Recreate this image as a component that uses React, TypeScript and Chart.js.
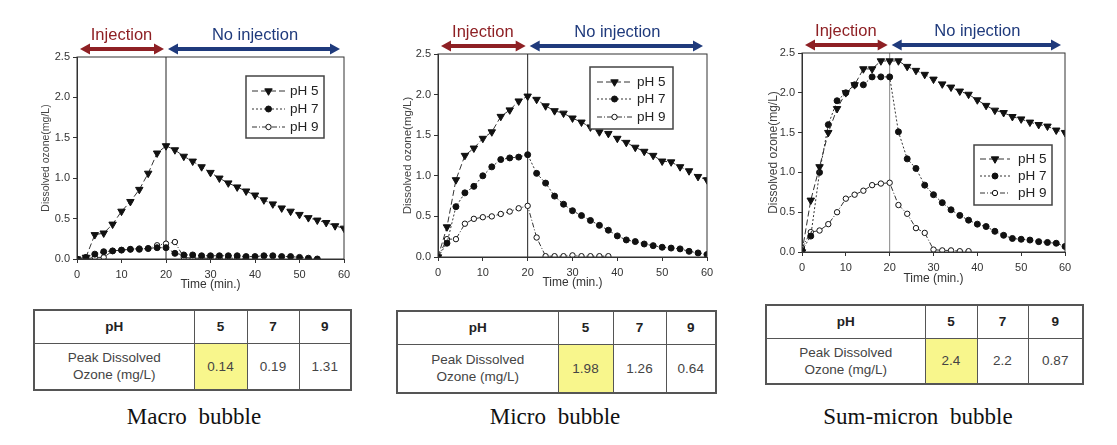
import React, { useEffect, useRef } from "react";
import { Chart, registerables } from "chart.js";
Chart.register(...registerables);

// ---------- data ----------
const TIME = [0, 2, 4, 6, 8, 10, 12, 14, 16, 18, 20, 22, 24, 26, 28, 30, 32, 34, 36, 38, 40, 42, 44, 46, 48, 50, 52, 54, 56, 58, 60];
const SERIES_LABELS = ["pH 5", "pH 7", "pH 9"];
const PHASE_LABELS = ["Injection", "No injection"];
const X_TITLE = "Time (min.)";
const Y_TITLE = "Dissolved ozone(mg/L)";

const MACRO_PH5 = [0, 0.02, 0.30, 0.32, 0.43, 0.59, 0.71, 0.86, 1.06, 1.31, 1.40, 1.35, 1.27, 1.21, 1.14, 1.07, 1.00, 0.94, 0.89, 0.84, 0.79, 0.73, 0.68, 0.63, 0.59, 0.55, 0.51, 0.48, 0.45, 0.41, 0.38];
const MACRO_PH7 = [0, 0.02, 0.06, 0.09, 0.10, 0.11, 0.12, 0.12, 0.13, 0.14, 0.14, 0.07, 0.05, 0.05, 0.04, 0.04, 0.04, 0.04, 0.04, 0.03, 0.03, 0.04, 0.04, 0.03, 0.03, 0.02, 0.01, 0.0];
const MACRO_PH9 = [0, 0.0, 0.02, 0.02, 0.10, 0.11, 0.12, 0.13, 0.13, 0.17, 0.19, 0.21, 0.02, 0.01, 0.01, 0.01, 0.01, 0.01, 0.01, 0.01];

const MICRO_PH5 = [0, 0.37, 0.95, 1.25, 1.34, 1.46, 1.54, 1.73, 1.81, 1.92, 1.98, 1.94, 1.86, 1.80, 1.77, 1.71, 1.66, 1.60, 1.54, 1.52, 1.46, 1.41, 1.35, 1.30, 1.25, 1.18, 1.17, 1.11, 1.06, 0.99, 0.95];
const MICRO_PH7 = [0, 0.17, 0.62, 0.79, 0.87, 1.00, 1.11, 1.20, 1.22, 1.23, 1.26, 1.03, 0.91, 0.75, 0.65, 0.57, 0.51, 0.45, 0.39, 0.33, 0.26, 0.21, 0.19, 0.16, 0.14, 0.12, 0.11, 0.10, 0.07, 0.05, 0.03];
const MICRO_PH9 = [0, 0.22, 0.22, 0.41, 0.47, 0.49, 0.50, 0.53, 0.56, 0.60, 0.63, 0.24, 0.01, 0.01, 0.01, 0.02, 0.01, 0.01, 0.01, 0.01];

const SUB_PH5 = [0, 0.65, 1.07, 1.50, 1.80, 2.00, 2.10, 2.30, 2.30, 2.40, 2.40, 2.40, 2.33, 2.28, 2.23, 2.17, 2.11, 2.07, 2.02, 1.98, 1.91, 1.84, 1.78, 1.75, 1.70, 1.67, 1.63, 1.60, 1.58, 1.53, 1.50];
const SUB_PH7 = [0.02, 0.20, 1.00, 1.60, 1.90, 2.00, 2.10, 2.10, 2.20, 2.20, 2.20, 1.51, 1.17, 1.05, 0.84, 0.72, 0.62, 0.53, 0.46, 0.40, 0.35, 0.32, 0.26, 0.21, 0.17, 0.16, 0.15, 0.13, 0.12, 0.11, 0.07];
const SUB_PH9 = [0.05, 0.25, 0.27, 0.35, 0.50, 0.67, 0.72, 0.77, 0.84, 0.86, 0.87, 0.59, 0.48, 0.30, 0.24, 0.03, 0.02, 0.02, 0.01, 0.01];

const TABLE_HEAD = ["pH", "5", "7", "9"];
const TABLE_ROW_LABEL = ["Peak Dissolved", "Ozone (mg/L)"];
const MACRO_PEAK = ["0.14", "0.19", "1.31"];
const MICRO_PEAK = ["1.98", "1.26", "0.64"];
const SUB_PEAK = ["2.4", "2.2", "0.87"];
const CAPTIONS = ["Macro bubble", "Micro bubble", "Sum-micron bubble"];

// ---------- styles ----------
const SANS = "'Liberation Sans', Arial, sans-serif";
const RED = "#8e2024";
const BLUE = "#1f3a7c";
const LINE = "#333";

const SERIES_STYLE = [
  { pointStyle: "triangle", rotation: 180, radius: 4.3, fill: "#111", dash: [6, 3] },
  { pointStyle: "circle", rotation: 0, radius: 3, fill: "#111", dash: [2, 2] },
  { pointStyle: "circle", rotation: 0, radius: 2.7, fill: "#fff", dash: [5, 2, 1, 2] },
];

type Cfg = {
  left: number; width: number; height: number;
  area: { left: number; right: number; top: number; bottom: number };
  yTitleLeft: number; yTitleSize: number;
  legend: { x: number; y: number; w: number; h: number; rows: number[]; l0: number; l1: number; tx: number };
  vline: string;
  series: number[][];
};

function drawArrow(ctx: CanvasRenderingContext2D, x1: number, x2: number, y: number, color: string) {
  const hl = 10, hh = 5.5;
  ctx.save();
  ctx.strokeStyle = color;
  ctx.fillStyle = color;
  ctx.lineWidth = 4;
  ctx.beginPath();
  ctx.moveTo(x1 + hl - 1, y);
  ctx.lineTo(x2 - hl + 1, y);
  ctx.stroke();
  ctx.beginPath();
  ctx.moveTo(x1, y); ctx.lineTo(x1 + hl, y - hh); ctx.lineTo(x1 + hl, y + hh); ctx.closePath(); ctx.fill();
  ctx.beginPath();
  ctx.moveTo(x2, y); ctx.lineTo(x2 - hl, y - hh); ctx.lineTo(x2 - hl, y + hh); ctx.closePath(); ctx.fill();
  ctx.restore();
}

function drawMarker(ctx: CanvasRenderingContext2D, st: any, x: number, y: number) {
  ctx.beginPath();
  if (st.pointStyle === "triangle") {
    const r = st.radius;
    ctx.moveTo(x, y + r);
    ctx.lineTo(x - r * 0.866, y - r * 0.5);
    ctx.lineTo(x + r * 0.866, y - r * 0.5);
    ctx.closePath();
  } else {
    ctx.arc(x, y, st.radius, 0, Math.PI * 2);
  }
  ctx.fill();
  ctx.stroke();
}

const overlay = {
  id: "overlay",
  beforeDatasetsDraw(chart: any, _a: any, opts: any) {
    const { ctx, chartArea } = chart;
    const xs = chart.scales.x;
    const x20 = xs.getPixelForValue(20);
    ctx.save();
    ctx.strokeStyle = opts.vline;
    ctx.lineWidth = 1;
    ctx.beginPath();
    ctx.moveTo(x20, chartArea.top);
    ctx.lineTo(x20, chartArea.bottom);
    ctx.stroke();
    ctx.restore();
  },
  afterDraw(chart: any, _a: any, opts: any) {
    const { ctx, chartArea } = chart;
    const xs = chart.scales.x;
    const x0 = xs.getPixelForValue(0), x20 = xs.getPixelForValue(20), x60 = xs.getPixelForValue(60);
    // frame
    ctx.save();
    ctx.strokeStyle = LINE;
    ctx.lineWidth = 1;
    ctx.strokeRect(chartArea.left, chartArea.top, chartArea.right - chartArea.left, chartArea.bottom - chartArea.top);
    ctx.restore();
    // arrows
    const ay = chartArea.top - 8;
    drawArrow(ctx, x0 + 3, x20 - 2, ay, RED);
    drawArrow(ctx, x20 + 2, x60 - 4, ay, BLUE);
    ctx.save();
    ctx.font = `16.5px ${SANS}`;
    ctx.textAlign = "center";
    ctx.textBaseline = "middle";
    ctx.fillStyle = RED;
    ctx.fillText(PHASE_LABELS[0], (x0 + x20) / 2, chartArea.top - 22);
    ctx.fillStyle = BLUE;
    ctx.fillText(PHASE_LABELS[1], (x20 + x60) / 2, chartArea.top - 22);
    ctx.restore();
    // legend
    const lg = opts.legend;
    ctx.save();
    ctx.fillStyle = "#fff";
    ctx.fillRect(lg.x, lg.y, lg.w, lg.h);
    ctx.strokeStyle = "#444";
    ctx.lineWidth = 1.5;
    ctx.strokeRect(lg.x, lg.y, lg.w, lg.h);
    chart.data.datasets.forEach((ds: any, i: number) => {
      const y = lg.rows[i];
      ctx.save();
      ctx.strokeStyle = LINE;
      ctx.lineWidth = 1;
      ctx.setLineDash(ds.borderDash);
      ctx.beginPath();
      ctx.moveTo(lg.l0, y);
      ctx.lineTo(lg.l1, y);
      ctx.stroke();
      ctx.restore();
      const st = SERIES_STYLE[i];
      ctx.save();
      ctx.fillStyle = st.fill;
      ctx.strokeStyle = "#111";
      ctx.lineWidth = 1;
      drawMarker(ctx, st, (lg.l0 + lg.l1) / 2, y);
      ctx.restore();
      ctx.fillStyle = "#222";
      ctx.font = `13.5px ${SANS}`;
      ctx.textBaseline = "middle";
      ctx.fillText(ds.label, lg.tx, y);
    });
    ctx.restore();
  },
};

function LineChart({ cfg }: { cfg: Cfg }) {
  const ref = useRef<HTMLCanvasElement>(null);
  useEffect(() => {
    if (!ref.current) return;
    const chart = new Chart(ref.current, {
      type: "line",
      data: {
        datasets: cfg.series.map((vals, i) => ({
          label: SERIES_LABELS[i],
          data: vals.map((v, k) => ({ x: TIME[k], y: v })),
          borderColor: LINE,
          borderWidth: 1,
          borderDash: SERIES_STYLE[i].dash,
          pointStyle: SERIES_STYLE[i].pointStyle as any,
          rotation: SERIES_STYLE[i].rotation,
          pointRadius: SERIES_STYLE[i].radius,
          pointBackgroundColor: SERIES_STYLE[i].fill,
          pointBorderColor: "#111",
          pointBorderWidth: 1,
          tension: 0,
          fill: false,
        })),
      },
      options: {
        animation: false,
        responsive: false,
        events: [],
        layout: {
          padding: {
            left: cfg.yTitleLeft,
            top: cfg.area.top,
            right: cfg.width - cfg.area.right,
            bottom: 0,
          },
        },
        plugins: {
          legend: { display: false },
          tooltip: { enabled: false },
          overlay: { legend: cfg.legend, vline: cfg.vline },
        } as any,
        scales: {
          x: {
            type: "linear",
            min: 0,
            max: 60,
            ticks: { stepSize: 10, color: "#333", font: { family: SANS, size: 11 }, padding: 5, maxRotation: 0 },
            grid: { drawOnChartArea: false, drawTicks: true, tickLength: 4, color: LINE },
            border: { display: true, color: LINE, width: 1 },
            title: { display: true, text: X_TITLE, color: "#333", font: { family: SANS, size: 12 }, padding: 0 },
            afterFit: (s: any) => { s.height = cfg.height - cfg.area.bottom; },
          },
          y: {
            min: 0,
            max: 2.5,
            ticks: { stepSize: 0.5, color: "#333", font: { family: SANS, size: 11 }, padding: 3, callback: (v: any) => Number(v).toFixed(1) },
            grid: { drawOnChartArea: false, drawTicks: true, tickLength: 4, color: LINE },
            border: { display: true, color: LINE, width: 1 },
            title: { display: true, text: Y_TITLE, color: "#444", font: { family: SANS, size: cfg.yTitleSize }, padding: 0 },
            afterFit: (s: any) => { s.width = cfg.area.left - cfg.yTitleLeft; },
          },
        },
      } as any,
      plugins: [overlay as any],
    });
    return () => chart.destroy();
  }, [cfg]);
  return (
    <canvas
      ref={ref}
      width={cfg.width}
      height={cfg.height}
      style={{ position: "absolute", left: cfg.left, top: 0, width: cfg.width, height: cfg.height }}
    />
  );
}

const CHARTS: Cfg[] = [
  {
    left: 0, width: 370, height: 292,
    area: { left: 77, right: 344, top: 57, bottom: 259 },
    yTitleLeft: 40, yTitleSize: 10.5,
    legend: { x: 246, y: 76, w: 78, h: 62, rows: [91, 109, 127], l0: 252, l1: 285, tx: 290 },
    vline: "#222",
    series: [MACRO_PH5, MACRO_PH7, MACRO_PH9],
  },
  {
    left: 370, width: 370, height: 290,
    area: { left: 68, right: 337, top: 54, bottom: 257 },
    yTitleLeft: 31, yTitleSize: 11.5,
    legend: { x: 220, y: 67, w: 83, h: 62, rows: [82, 99, 117], l0: 227, l1: 262, tx: 267 },
    vline: "#222",
    series: [MICRO_PH5, MICRO_PH7, MICRO_PH9],
  },
  {
    left: 740, width: 377, height: 286,
    area: { left: 62, right: 325, top: 53, bottom: 252 },
    yTitleLeft: 26, yTitleSize: 12,
    legend: { x: 234, y: 145, w: 78, h: 60, rows: [159, 176, 193], l0: 240, l1: 270, tx: 278 },
    vline: "#888",
    series: [SUB_PH5, SUB_PH7, SUB_PH9],
  },
];

type TableCfg = { left: number; top: number; cols: number[]; head: number; row: number; values: string[]; caption: string; capX: number };

const TABLES: TableCfg[] = [
  { left: 33, top: 309, cols: [160, 53, 52, 52], head: 33, row: 47, values: MACRO_PEAK, caption: CAPTIONS[0], capX: 194 },
  { left: 396, top: 310, cols: [161, 55, 53, 50], head: 33, row: 49, values: MICRO_PEAK, caption: CAPTIONS[1], capX: 555 },
  { left: 765, top: 304, cols: [159, 52, 51, 55], head: 33, row: 46, values: SUB_PEAK, caption: CAPTIONS[2], capX: 918 },
];

function PeakTable({ t }: { t: TableCfg }) {
  const cell: React.CSSProperties = {
    border: "1px solid #555",
    padding: 0,
    textAlign: "center",
    verticalAlign: "middle",
    fontFamily: SANS,
    fontSize: 13.5,
    color: "#333",
  };
  const width = t.cols.reduce((a, b) => a + b, 0);
  return (
    <>
      <table
        style={{
          position: "absolute",
          left: t.left,
          top: t.top,
          width,
          borderCollapse: "collapse",
          tableLayout: "fixed",
          border: "2px solid #555",
        }}
      >
        <colgroup>
          {t.cols.map((w, i) => (
            <col key={i} style={{ width: w }} />
          ))}
        </colgroup>
        <tbody>
          <tr style={{ height: t.head }}>
            {TABLE_HEAD.map((h, i) => (
              <td key={i} style={{ ...cell, fontWeight: "bold", color: "#222" }}>{h}</td>
            ))}
          </tr>
          <tr style={{ height: t.row }}>
            <td style={{ ...cell, lineHeight: "17px", color: "#444" }}>
              {TABLE_ROW_LABEL[0]}
              <br />
              {TABLE_ROW_LABEL[1]}
            </td>
            {t.values.map((v, i) => (
              <td key={i} style={{ ...cell, background: i === 0 ? "#f8f68c" : "#fff", color: "#444" }}>{v}</td>
            ))}
          </tr>
        </tbody>
      </table>
      <div
        style={{
          position: "absolute",
          left: t.capX - 150,
          width: 300,
          top: 403,
          textAlign: "center",
          fontFamily: "'Liberation Serif', 'DejaVu Serif', serif",
          fontSize: 23,
          wordSpacing: 6,
          color: "#111",
          lineHeight: "27px",
        }}
      >
        {t.caption}
      </div>
    </>
  );
}

export default function App() {
  return (
    <div style={{ position: "absolute", left: 0, top: 0, width: 1117, height: 445, background: "#fff", overflow: "hidden" }}>
      {CHARTS.map((c, i) => (
        <LineChart key={i} cfg={c} />
      ))}
      {TABLES.map((t, i) => (
        <PeakTable key={i} t={t} />
      ))}
    </div>
  );
}
